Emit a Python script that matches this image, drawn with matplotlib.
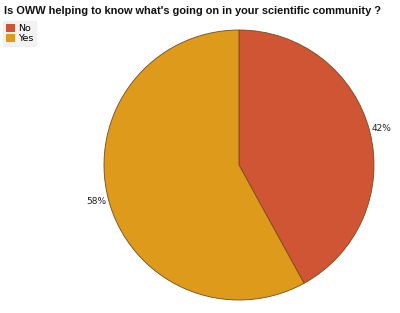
import matplotlib
matplotlib.use("Agg")
import matplotlib.pyplot as plt
from matplotlib.patches import Patch

title = "Is OWW helping to know what's going on in your scientific community ?"
categories = ["No", "Yes"]
values = [42, 58]
colors = ["#D05535", "#DE9A1A"]

W, H = 400, 313
fig = plt.figure(figsize=(W / 100, H / 100), dpi=100)
fig.patch.set_facecolor("white")

ax = fig.add_axes([104 / W, 13 / H, 270 / W, 270 / H])
wedges, texts, autotexts = ax.pie(
    values, colors=colors, startangle=90, counterclock=False,
    autopct=lambda p: f"{p:.0f}%", pctdistance=1.09, labels=None,
    wedgeprops=dict(edgecolor="#7a4a1a", linewidth=0.6),
    textprops=dict(fontsize=6.5, color="#222222"),
)
ax.set_xlim(-1, 1)
ax.set_ylim(-1, 1)
ax.set_aspect("equal")
ax.axis("off")

t = fig.text(4 / W, 1 - 11 / H, title, fontsize=9, fontweight="bold",
             family="Liberation Sans", ha="left", va="center", color="#111111")
# fit title to reference width (~378 px)
fig.canvas.draw()
bb = t.get_window_extent()
t.set_fontsize(9 * 378 / bb.width)

handles = [Patch(facecolor=c, edgecolor="none") for c in colors]
leg = fig.legend(handles, categories, loc="upper left",
                 bbox_to_anchor=(3 / W, 1 - 21 / H), fontsize=6.8,
                 frameon=True, fancybox=False, handlelength=0.9,
                 handleheight=0.9, handletextpad=0.3, borderpad=0.35,
                 labelspacing=0.05, borderaxespad=0)
leg.get_frame().set_facecolor("#EFEFEF")
leg.get_frame().set_edgecolor("#EFEFEF")

fig.savefig("out.png", dpi=100)
